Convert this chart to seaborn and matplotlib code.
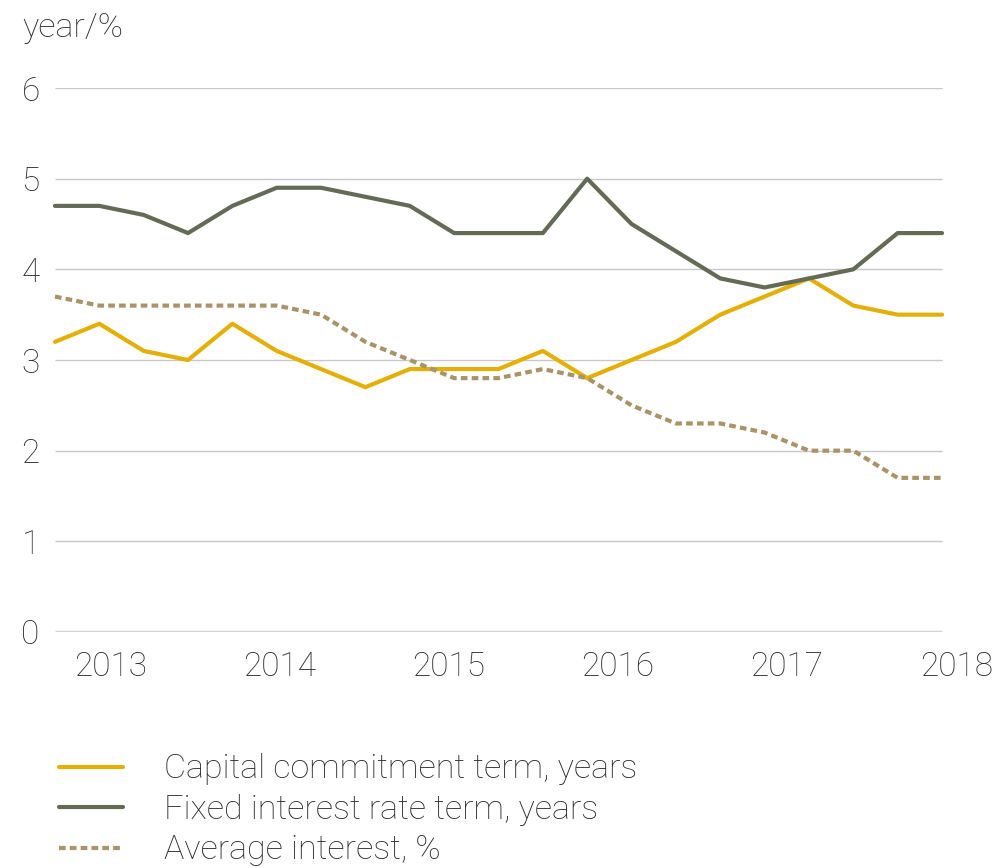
import pandas as pd
import matplotlib.pyplot as plt
import seaborn as sns
import numpy as np

quarter = list(range(21))
capital_term = [3.2, 3.4, 3.1, 3.0, 3.4, 3.1, 2.9, 2.7, 2.9, 2.9, 2.9,
                3.1, 2.8, 3.0, 3.2, 3.5, 3.7, 3.9, 3.6, 3.5, 3.5]
fixed_term = [4.7, 4.7, 4.6, 4.4, 4.7, 4.9, 4.9, 4.8, 4.7, 4.4, 4.4,
              4.4, 5.0, 4.5, 4.2, 3.9, 3.8, 3.9, 4.0, 4.4, 4.4]
avg_interest = [3.7, 3.6, 3.6, 3.6, 3.6, 3.6, 3.5, 3.2, 3.0, 2.8, 2.8,
                2.9, 2.8, 2.5, 2.3, 2.3, 2.2, 2.0, 2.0, 1.7, 1.7]
year_labels = ['2013', '2014', '2015', '2016', '2017', '2018']
year_ticks = [1.26, 5.07, 8.88, 12.69, 16.5, 20.32]

df = pd.DataFrame({'quarter': quarter, 'capital': capital_term,
                   'fixed': fixed_term, 'interest': avg_interest})

sns.set_theme(style='white')
plt.rcParams['font.family'] = ['Roboto', 'DejaVu Sans']
txt = '#2b2b2b'

fig = plt.figure(figsize=(9.96, 8.68), dpi=100)
# axes run a bit past the last quarter so the 2018 label fits
ax = fig.add_axes([0.0552, 0.2719, 0.9084, 0.6267])

# grid lines, only over the data span
ax.hlines(range(1, 7), 0, 20, color='#c8c8c8', lw=1.0, zorder=0)
ax.hlines(0, 0, 20, color='#d4d4d4', lw=2.5, zorder=0)

sns.lineplot(data=df, x='quarter', y='capital', color='#e2b007', lw=3.0,
             ax=ax, label='Capital commitment term, years', clip_on=False)
sns.lineplot(data=df, x='quarter', y='fixed', color='#636b57', lw=3.0,
             ax=ax, label='Fixed interest rate term, years', clip_on=False)
sns.lineplot(data=df, x='quarter', y='interest', color='#a89468', lw=3.0,
             ax=ax, label='Average interest, %', clip_on=False,
             dashes=(1.6, 1.0))

ax.set_yticks(range(0, 7))
ax.set_yticklabels([str(v) for v in range(0, 7)])
ax.set_xticks(year_ticks)
ax.set_xticklabels(year_labels)
ax.set_xlim(0, 20.4)
ax.set_ylim(0, 6)
ax.tick_params(axis='both', length=0, labelsize=24, labelcolor=txt)
ax.tick_params(axis='x', pad=14)
ax.tick_params(axis='y', pad=11)
for lab in ax.get_xticklabels() + ax.get_yticklabels():
    lab.set_fontweight('light')
ax.set_xlabel('')
ax.set_ylabel('')
sns.despine(ax=ax, left=True, bottom=True)

fig.text(0.022, 0.968, 'year/%', fontsize=24.5, color=txt, fontweight='light',
         va='center', ha='left')

handles, labels = ax.get_legend_handles_labels()
ax.get_legend().remove()
leg = fig.legend(handles, labels, loc='upper left', bbox_to_anchor=(0.059, 0.132),
                 frameon=False, fontsize=24.5, handlelength=1.9, handletextpad=1.2,
                 labelspacing=0.25, borderaxespad=0, borderpad=0)
for t in leg.get_texts():
    t.set_color(txt)
    t.set_fontweight('light')

fig.savefig('out.png', dpi=100)
